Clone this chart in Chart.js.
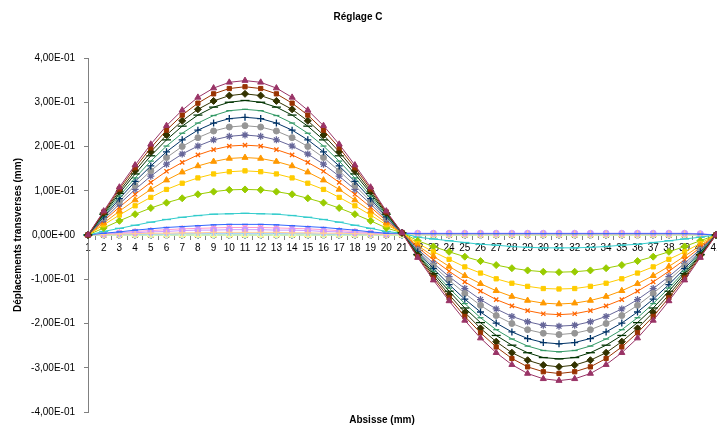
<!DOCTYPE html>
<html>
<head>
<meta charset="utf-8">
<script src="https://cdn.jsdelivr.net/npm/chart.js@4"></script>
<style>
  html, body { margin: 0; padding: 0; background: #fff; overflow: hidden; }
  #wrap { position: relative; width: 717px; height: 438px; }
</style>
</head>
<body>
<div id="wrap"><canvas id="chart"></canvas></div>
<script>
// ─── DATA ───
const categories = ['1','2','3','4','5','6','7','8','9','10','11','12','13','14','15','16','17','18','19','20',
  '21','22','23','24','25','26','27','28','29','30','31','32','33','34','35','36','37','38','39','40','41'];

const yTickValues = [-0.4, -0.3, -0.2, -0.1, 0, 0.1, 0.2, 0.3, 0.4];

const chartTitle = 'Réglage C';
const yTitle = 'Déplacements transverses (mm)';
const xTitle = 'Absisse (mm)';

// séries 1 à 12 : restent sur zéro
const zeroRow = [0,0,0,0,0,0,0,0,0,0,0,0,0,0,0,0,0,0,0,0,0,0,0,0,0,0,0,0,0,0,0,0,0,0,0,0,0,0,0,0,0];

const serie13 = [0,.001,.001,.002,.002,.002,.003,.003,.003,.003,.003,.003,.003,.003,.003,.002,.002,.002,.001,.001,.003,
  .002,.002,.002,.002,.002,.002,.002,.002,.002,.002,.002,.002,.002,.002,.002,.002,.002,.002,.001,0];
const serie14 = [0,.003,.005,.008,.010,.012,.014,.015,.016,.017,.017,.017,.016,.015,.014,.012,.010,.008,.005,.003,.004,
  .003,.003,.003,.003,.003,.003,.003,.003,.003,.003,.003,.003,.003,.003,.003,.003,.003,.003,.002,0];
const serie15 = [0,.002,.004,.005,.007,.008,.010,.011,.011,.012,.012,.012,.011,.011,.010,.008,.007,.005,.004,.002,.005,
  .004,.004,.004,.004,.004,.004,.004,.004,.004,.004,.004,.004,.004,.004,.004,.004,.004,.004,.003,0];
const serie16 = [0,.001,.002,.003,.004,.004,.005,.005,.006,.006,.006,.006,.006,.005,.005,.004,.004,.003,.002,.001,.003,
  .002,.002,.002,.002,.002,.002,.002,.002,.002,.002,.002,.002,.002,.002,.002,.002,.002,.002,.001,0];
const serie17 = [0,.004,.007,.011,.014,.017,.019,.021,.023,.024,.024,.024,.023,.021,.019,.017,.014,.011,.007,.004,.004,
  .003,.003,.003,.003,.003,.003,.003,.003,.003,.003,.003,.003,.003,.003,.003,.003,.003,.003,.002,0];
const serie18 = [0,.008,.015,.022,.029,.035,.040,.044,.047,.048,.049,.048,.047,.044,.040,.035,.029,.022,.015,.008,.004,
  -.005,-.009,-.013,-.017,-.021,-.023,-.026,-.028,-.029,-.029,-.029,-.028,-.026,-.023,-.021,-.017,-.013,-.009,-.005,0];
const serie19 = [0,.016,.032,.047,.061,.073,.083,.092,.098,.102,.103,.102,.098,.092,.083,.073,.061,.047,.032,.016,.005,
  -.013,-.026,-.038,-.049,-.059,-.068,-.075,-.080,-.083,-.084,-.083,-.080,-.075,-.068,-.059,-.049,-.038,-.026,-.013,0];
const serie20 = [0,.023,.045,.066,.085,.103,.117,.129,.138,.143,.145,.143,.138,.129,.117,.103,.085,.066,.045,.023,.005,
  -.019,-.038,-.055,-.072,-.086,-.099,-.109,-.116,-.121,-.122,-.121,-.116,-.109,-.099,-.086,-.072,-.055,-.038,-.019,0];
const serie21 = [0,.027,.054,.079,.103,.124,.142,.156,.166,.173,.175,.173,.166,.156,.142,.124,.103,.079,.054,.027,.005,
  -.024,-.048,-.071,-.092,-.110,-.126,-.139,-.148,-.154,-.156,-.154,-.148,-.139,-.126,-.110,-.092,-.071,-.048,-.024,0];
const serie22 = [0,.032,.063,.092,.119,.144,.164,.181,.193,.201,.203,.201,.193,.181,.164,.144,.119,.092,.063,.032,.005,
  -.028,-.056,-.082,-.106,-.127,-.146,-.160,-.171,-.178,-.180,-.178,-.171,-.160,-.146,-.127,-.106,-.082,-.056,-.028,0];
const serie23 = [0,.035,.070,.103,.133,.160,.183,.201,.215,.223,.226,.223,.215,.201,.183,.160,.133,.103,.070,.035,.005,
  -.032,-.064,-.094,-.121,-.146,-.167,-.184,-.196,-.204,-.206,-.204,-.196,-.184,-.167,-.146,-.121,-.094,-.064,-.032,0];
const serie24 = [0,.039,.076,.112,.145,.175,.200,.220,.235,.244,.247,.244,.235,.220,.200,.175,.145,.112,.076,.039,.005,
  -.035,-.070,-.102,-.132,-.159,-.182,-.200,-.214,-.222,-.225,-.222,-.214,-.200,-.182,-.159,-.132,-.102,-.070,-.035,0];
const serie25 = [0,.041,.082,.121,.156,.188,.215,.237,.253,.263,.266,.263,.253,.237,.215,.188,.156,.121,.082,.041,.005,
  -.038,-.076,-.112,-.145,-.174,-.199,-.219,-.234,-.243,-.246,-.243,-.234,-.219,-.199,-.174,-.145,-.112,-.076,-.038,0];
const serie26 = [0,.044,.088,.129,.167,.201,.230,.253,.270,.281,.284,.281,.270,.253,.230,.201,.167,.129,.088,.044,.005,
  -.041,-.082,-.120,-.155,-.187,-.214,-.235,-.251,-.261,-.264,-.261,-.251,-.235,-.214,-.187,-.155,-.120,-.082,-.041,0];
const serie27 = [0,.047,.094,.138,.179,.215,.246,.271,.289,.300,.304,.300,.289,.271,.246,.215,.179,.138,.094,.047,.005,
  -.044,-.087,-.127,-.165,-.198,-.227,-.249,-.266,-.277,-.280,-.277,-.266,-.249,-.227,-.198,-.165,-.127,-.087,-.044,0];
const serie28 = [0,.050,.099,.145,.188,.226,.258,.284,.303,.315,.319,.315,.303,.284,.258,.226,.188,.145,.099,.050,.005,
  -.046,-.092,-.135,-.175,-.211,-.241,-.266,-.283,-.294,-.298,-.294,-.283,-.266,-.241,-.211,-.175,-.135,-.092,-.046,0];
const serie29 = [0,.052,.104,.152,.197,.237,.271,.298,.319,.331,.335,.331,.319,.298,.271,.237,.197,.152,.104,.052,.005,
  -.049,-.097,-.142,-.184,-.221,-.253,-.279,-.298,-.309,-.313,-.309,-.298,-.279,-.253,-.221,-.184,-.142,-.097,-.049,0];
const serie30 = [0,.054,.108,.158,.205,.247,.282,.311,.332,.345,.349,.345,.332,.311,.282,.247,.205,.158,.108,.054,.005,
  -.051,-.102,-.149,-.193,-.233,-.266,-.293,-.313,-.325,-.329,-.325,-.313,-.293,-.266,-.233,-.193,-.149,-.102,-.051,0];

const seriesValues = [
  zeroRow, zeroRow, zeroRow, zeroRow, zeroRow, zeroRow, zeroRow, zeroRow, zeroRow, zeroRow, zeroRow, zeroRow,
  serie13, serie14, serie15, serie16, serie17, serie18, serie19, serie20, serie21, serie22, serie23, serie24,
  serie25, serie26, serie27, serie28, serie29, serie30
];

// ─── STYLE (palette Excel) ───
const seriesColors = [
  '#000080','#FF00FF','#FFFF00','#00FFFF','#800080','#800000','#008080','#0000FF','#00CCFF',
  '#CCFFFF','#CCFFCC','#FFFF99','#99CCFF','#FF99CC','#CC99FF','#FFCC99','#3366FF','#33CCCC',
  '#99CC00','#FFCC00','#FF9900','#FF6600','#666699','#969696','#003366','#339966','#003300',
  '#333300','#993300','#993366'
];
// cycle des marqueurs : losange, carré, triangle, x, étoile, rond, plus, tiret court, tiret long
const markerCycle = [
  { style: 'rectRot',  r: 3.5, filled: true },
  { style: 'rect',     r: 3,   filled: true },
  { style: 'triangle', r: 3.5, filled: true },
  { style: 'crossRot', r: 3,   filled: false },
  { style: 'star',     r: 3.5, filled: false },
  { style: 'circle',   r: 3,   filled: true },
  { style: 'cross',    r: 3.5, filled: false },
  { style: 'line',     r: 3,   filled: false },
  { style: 'line',     r: 4.5, filled: false },
];

function formatSci(v) {
  if (Math.abs(v) < 1e-9) return '0,00E+00';
  const e = Math.floor(Math.log10(Math.abs(v)) + 1e-9);
  const m = v / Math.pow(10, e);
  const exp = (e < 0 ? '-' : '+') + String(Math.abs(e)).padStart(2, '0');
  return m.toFixed(2).replace('.', ',') + 'E' + exp;
}

const FONT = '"Liberation Sans", Arial, sans-serif';
Chart.defaults.font.family = FONT;
Chart.defaults.color = '#000';

const datasets = seriesValues.map((vals, i) => {
  const mk = markerCycle[i % markerCycle.length];
  const col = seriesColors[i];
  return {
    label: 'Série ' + (i + 1),
    data: vals,
    borderColor: col,
    backgroundColor: col,
    borderWidth: 1,
    pointStyle: mk.style,
    pointRadius: mk.r,
    pointBackgroundColor: mk.filled ? col : 'rgba(0,0,0,0)',
    pointBorderColor: col,
    pointBorderWidth: mk.filled ? 1 : 1.3,
    tension: 0,
    clip: false,
    order: seriesValues.length - i,
  };
});

const xTitlePlugin = {
  id: 'xTitle',
  afterDraw(chart) {
    const { ctx, chartArea } = chart;
    ctx.save();
    ctx.font = 'bold 10px ' + FONT;
    ctx.fillStyle = '#000';
    ctx.textAlign = 'center';
    ctx.textBaseline = 'middle';
    ctx.fillText(xTitle, chartArea.left + 294, chartArea.bottom + 8);
    ctx.restore();
  }
};

new Chart(document.getElementById('chart'), {
  type: 'line',
  data: { labels: categories, datasets },
  plugins: [xTitlePlugin],
  options: {
    responsive: true,
    maintainAspectRatio: false,
    animation: false,
    layout: { autoPadding: false, padding: { left: 0, right: 1, top: 0, bottom: 26 } },
    plugins: {
      legend: { display: false },
      tooltip: { enabled: false },
      title: {
        display: true,
        text: chartTitle,
        font: { size: 10, weight: 'bold', family: FONT },
        color: '#000',
        padding: { top: 11, bottom: 35 },
      },
    },
    scales: {
      x: {
        type: 'category',
        position: { y: 0 },
        offset: false,
        // le dernier libellé (41) est coupé par le bord, comme dans l'original
        afterFit: scale => { scale.paddingRight = 0; },
        grid: { display: true, drawOnChartArea: false, drawTicks: true, tickLength: 4, offset: true, color: '#808080' },
        border: { display: true, color: '#808080', width: 1 },
        ticks: { autoSkip: false, maxRotation: 0, minRotation: 0, padding: 3, font: { size: 10 }, color: '#000' },
      },
      y: {
        min: -0.4,
        max: 0.4,
        afterBuildTicks: scale => { scale.ticks = yTickValues.map(v => ({ value: v })); },
        afterFit: scale => { scale.width = 88; },
        grid: { display: true, drawOnChartArea: false, drawTicks: true, tickLength: 4, color: '#808080' },
        border: { display: true, color: '#808080', width: 1 },
        ticks: { padding: 9, font: { size: 10 }, color: '#000', callback: v => formatSci(v) },
        title: {
          display: true,
          text: yTitle,
          font: { size: 10, weight: 'bold' },
          color: '#000',
          padding: { top: 12, bottom: 0 },
        },
      },
    },
  },
});
</script>
</body>
</html>
